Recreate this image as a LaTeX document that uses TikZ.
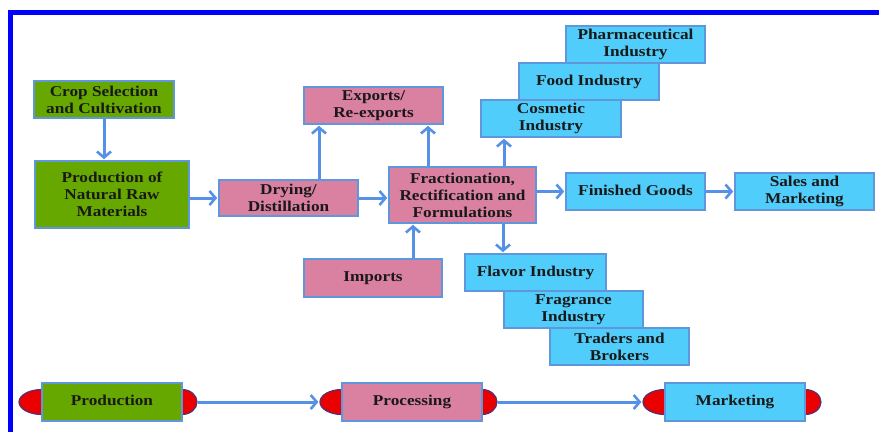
\documentclass[tikz,border=0pt]{standalone}
\usepackage{fontspec}
\newfontfamily\diagfont{Liberation Serif}[FakeStretch=1.15]
\usetikzlibrary{arrows.meta,shapes.geometric}

\definecolor{leaf}{RGB}{102,168,0}
\definecolor{rose}{RGB}{218,128,160}
\definecolor{sky}{RGB}{80,205,250}
\definecolor{edge}{RGB}{95,150,220}
\definecolor{flow}{RGB}{85,145,230}
\definecolor{capred}{RGB}{235,0,0}
\definecolor{capline}{RGB}{80,50,120}
\definecolor{frame}{RGB}{0,0,255}

\tikzset{
  box/.style={draw=edge, line width=1.6bp, align=center, inner sep=0pt,
    text=black!90, font=\diagfont\bfseries\fontsize{15bp}{17bp}\selectfont},
  greenbox/.style={box, fill=leaf},
  pinkbox/.style={box, fill=rose},
  cyanbox/.style={box, fill=sky},
  oneline/.style={text height=10bp, text depth=3bp},
  wide/.style={minimum width=#1bp},
  tall/.style={minimum height=#1bp},
  arr/.style={draw=flow, line width=3bp,
    -{Straight Barb[length=6bp,width=14bp,line width=2.6bp]}, shorten >=1bp},
  endcap/.style={ellipse, draw=capline, fill=capred, line width=1.2bp,
    inner sep=0pt, minimum height=25bp, minimum width=#1bp},
}

\begin{document}
\begin{tikzpicture}[x=1bp,y=-1bp]
\useasboundingbox (0,0) rectangle (879,431);

% page frame along the left and top edges
\draw[frame, line width=5bp] (10.5,440) -- (10.5,12.5) -- (890,12.5);

% upstream: growing and raw materials
\node[greenbox, wide=140, tall=37] (crop) at (104,99.5) {Crop Selection\\and Cultivation};
\node[greenbox, wide=154, tall=67] (prod) at (112,194.5) {Production of\\Natural Raw\\Materials};

% processing stage
\node[pinkbox, wide=139, tall=36] (dry) at (288.5,198) {Drying/\\Distillation};
\node[pinkbox, wide=139, tall=37] (exp) at (373.5,105.5) {Exports/\\Re-exports};
\node[pinkbox, wide=147, tall=56] (frac) at (462.5,195) {Fractionation,\\Rectification and\\Formulations};
\node[pinkbox, oneline, wide=138, tall=38] (imp) at (373,278) {Imports};

% industries fed from above
\node[cyanbox, wide=139, tall=37] (pharma) at (635.5,44.5) {Pharmaceutical\\Industry};
\node[cyanbox, oneline, wide=140, tall=37] (food) at (589,81.5) {Food Industry};
\node[cyanbox, wide=140, tall=37] (cosm) at (551,118.5) {Cosmetic\\Industry};

% finished goods chain
\node[cyanbox, oneline, wide=139, tall=37] (fin) at (635.5,191.5) {Finished Goods};
\node[cyanbox, wide=139, tall=37] (sales) at (804.5,191.5) {Sales and\\Marketing};

% industries fed from below
\node[cyanbox, oneline, wide=141, tall=37] (flav) at (535.5,272.5) {Flavor Industry};
\node[cyanbox, wide=139, tall=37] (frag) at (573.5,309.5) {Fragrance\\Industry};
\node[cyanbox, wide=139, tall=37] (trad) at (619.5,346.5) {Traders and\\Brokers};

% connectors of the flow chart
\draw[arr] (crop.south) -- (crop.south |- prod.north);
\draw[arr] (prod.east |- dry.west) -- (dry.west);
\draw[arr] (dry.east) -- (dry.east -| frac.west);
\draw[arr] ([xshift=30.5bp]dry.north) -- ([xshift=30.5bp]dry.north |- exp.south);
\draw[arr] ([xshift=-34.5bp]frac.north) -- ([xshift=-34.5bp]frac.north |- exp.south);
\draw[arr] ([xshift=41.5bp]frac.north) -- ([xshift=41.5bp]frac.north |- cosm.south);
\draw[arr] ([xshift=40bp]imp.north) -- ([xshift=40bp]imp.north |- frac.south);
\draw[arr] ([xshift=40.5bp]frac.south) -- ([xshift=40.5bp]frac.south |- flav.north);
\draw[arr] (frac.east |- fin.west) -- (fin.west);
\draw[arr] (fin.east) -- (sales.west);

% stage legend along the bottom
\node[endcap=46] (pL) at (42,402) {};
\node[endcap=30] (pR) at (182,402) {};
\node[greenbox, oneline, wide=140, tall=38] (stageA) at (112,402) {Production};
\node[endcap=44] (qL) at (342,402) {};
\node[endcap=30] (qR) at (482,402) {};
\node[pinkbox, oneline, wide=140, tall=38] (stageB) at (412,402) {Processing};
\node[endcap=44] (mL) at (665,402) {};
\node[endcap=32] (mR) at (805,402) {};
\node[cyanbox, oneline, wide=140, tall=38] (stageC) at (735,402) {Marketing};

\draw[arr] (pR.east) -- (qL.west);
\draw[arr] (qR.east) -- (mL.west);
\end{tikzpicture}
\end{document}
